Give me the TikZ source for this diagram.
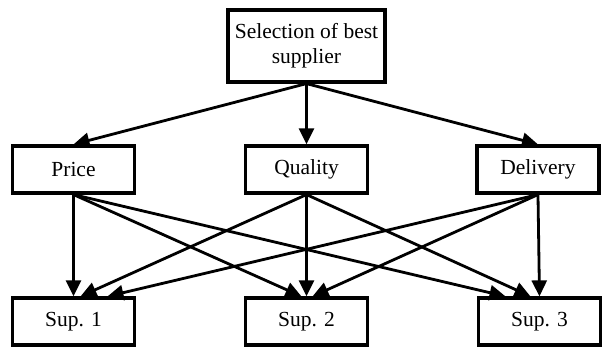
\documentclass[tikz,border=0pt]{standalone}
\usepackage{fontspec}
\setmainfont{Liberation Serif}
\usetikzlibrary{arrows.meta, positioning}
\tikzstyle{goal} = [rectangle, minimum width=157pt, minimum height=72pt, text centered, align=center, draw=black, line width=3.2pt, font=\fontsize{21.5}{25}\selectfont]
\tikzstyle{criterion} = [rectangle, minimum width=122pt, minimum height=47pt, text centered, draw=black, line width=3.2pt, font=\fontsize{21.5}{25}\selectfont]
\tikzstyle{arrow} = [line width=2.8pt, -{Triangle[length=16pt,width=15pt]}]

\begin{document}
\begin{tikzpicture}[node distance=233pt]

% Goal
\node (best) [goal] {Selection of best\\supplier};

% Criteria
\node (quality) [criterion, below of=best, yshift=109.5pt] {Quality};
\node (price) [criterion, left of=quality] {Price};
\node (delivery) [criterion, right of=quality, xshift=-1.5pt] {Delivery};

% Suppliers
\node (sup2) [criterion, below of=quality, yshift=81pt] {Sup. 2};
\node (sup1) [criterion, left of=sup2] {Sup. 1};
\node (sup3) [criterion, right of=sup2] {Sup. 3};

\useasboundingbox ([xshift=-306.5pt,yshift=46pt]best.center) rectangle ++(603pt,-347pt);

% Arrows
\draw [arrow] (best.south) -- (price.north);
\draw [arrow] (best.south) -- (quality.north);
\draw [arrow] (best.south) -- (delivery.north);

\draw [arrow] (price.south) -- (sup1.north);
\draw [arrow] (price.south) -- ([xshift=-5pt]sup2.north);
\draw [arrow] (price.south) -- ([xshift=-34pt]sup3.north);

\draw [arrow] (quality.south) -- ([xshift=7pt]sup1.north);
\draw [arrow] (quality.south) -- (sup2.north);
\draw [arrow] (quality.south) -- ([xshift=-9pt]sup3.north);

\draw [arrow] (delivery.south) -- ([xshift=34pt]sup1.north);
\draw [arrow] (delivery.south) -- ([xshift=6pt]sup2.north);
\draw [arrow] (delivery.south) -- (sup3.north);

\end{tikzpicture}
\end{document}
